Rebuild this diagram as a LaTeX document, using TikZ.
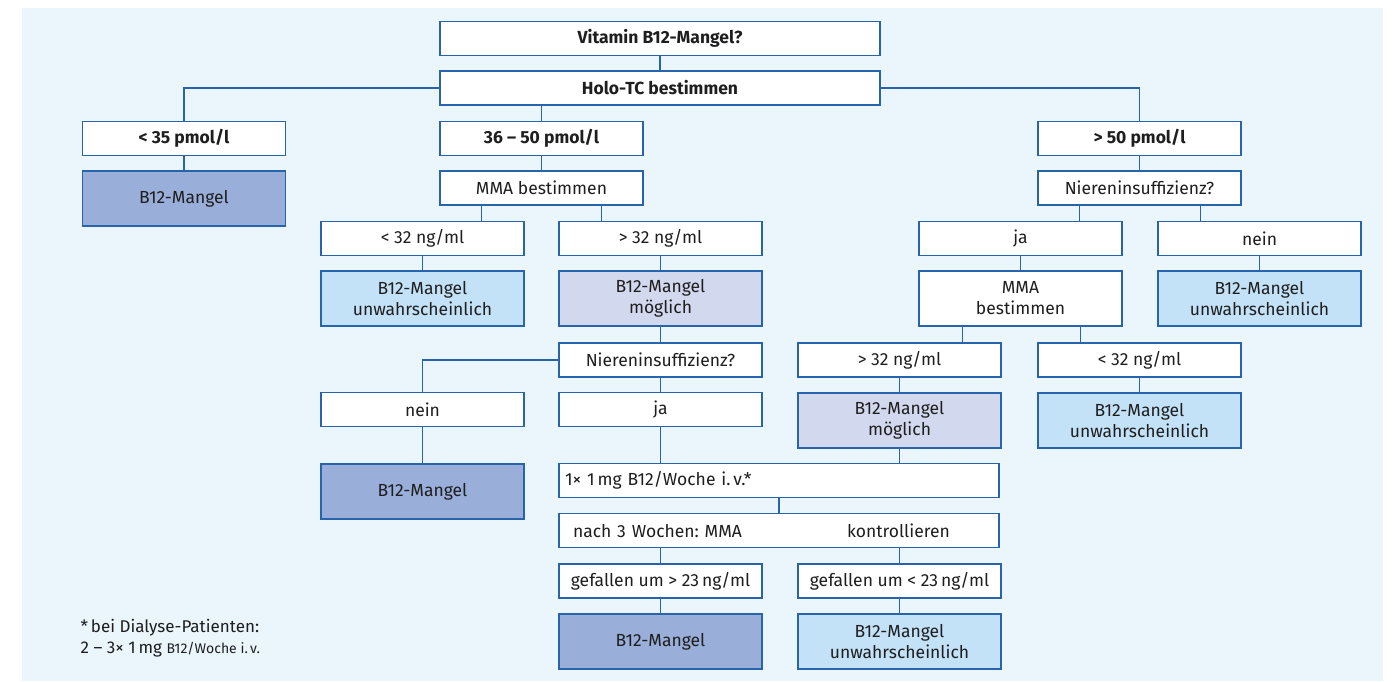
\documentclass[tikz,border=0pt]{standalone}
\usepackage{fontspec}
\setmainfont{Fira Sans}
\usepackage{tikz}
\definecolor{panel}{RGB}{234,245,252}
\definecolor{frame}{RGB}{40,100,172}
\definecolor{darkfill}{RGB}{153,174,217}
\definecolor{lavfill}{RGB}{210,216,238}
\definecolor{lightfill}{RGB}{196,226,247}
\definecolor{ink}{RGB}{30,30,30}
\frenchspacing

\begin{document}
\begin{tikzpicture}[x=1pt,y=-1pt,line width=1.3pt]
        \tikzstyle{box}=[rectangle, draw=frame, fill=white, text=ink, inner sep=0pt, align=center,
                         minimum width=203pt, minimum height=34pt, font=\fontsize{17.5}{21}\selectfont]
        \tikzstyle{wide}=[box, minimum width=440pt]
        \tikzstyle{tall}=[box, minimum height=55pt]
        \tikzstyle{head}=[box, font=\fontsize{17.5}{21}\selectfont\bfseries]
        \tikzstyle{sure}=[tall, fill=darkfill]
        \tikzstyle{maybe}=[tall, fill=lavfill]
        \tikzstyle{unlikely}=[tall, fill=lightfill]
        \tikzstyle{link}=[draw=frame, line width=1.1pt]

        \useasboundingbox (0,0) rectangle (1397,681);
        \fill[panel] (22,8) rectangle (1383,681);

        % top
        \node[head, minimum width=440pt] (Frage) at (660,38.5) {Vitamin B12-Mangel?};
        \node[head, minimum width=440pt] (Holo) at (660,88) {Holo-TC bestimmen};
        \node[head] (Low) at (184,138.5) {< 35 pmol/l};
        \node[head] (Mid) at (541.5,138.5) {36 – 50 pmol/l};
        \node[head] (High) at (1139.5,138.5) {> 50 pmol/l};

        % left and middle branch
        \node[sure] (MangelA) at (184,198.5) {B12-Mangel};
        \node[box] (MmaA) at (541.5,188) {MMA bestimmen};
        \node[box] (LtA) at (422.5,238.5) {< 32 ng/ml};
        \node[box] (GtA) at (660.5,238.5) {> 32 ng/ml};
        \node[unlikely] (UnwA) at (422.5,298.5) {B12-Mangel\\unwahrscheinlich};
        \node[maybe] (MoegA) at (660.5,298.5) {B12-Mangel\\möglich};
        \node[box] (NiereM) at (660.5,360) {Niereninsuffizienz?};
        \node[box] (NeinM) at (422.5,409.5) {nein};
        \node[box] (JaM) at (660.5,409.5) {ja};
        \node[sure] (MangelB) at (422.5,491.5) {B12-Mangel};

        % right branch
        \node[box] (NiereR) at (1139.5,188) {Niereninsuffizienz?};
        \node[box] (JaR) at (1020.5,238.5) {ja};
        \node[box] (NeinR) at (1259.5,238.5) {nein};
        \node[tall] (MmaR) at (1020.5,298.5) {MMA\\bestimmen};
        \node[unlikely] (UnwR) at (1259.5,298.5) {B12-Mangel\\unwahrscheinlich};
        \node[box] (GtR) at (899.5,360) {> 32 ng/ml};
        \node[box] (LtR) at (1139.5,360) {< 32 ng/ml};
        \node[maybe] (MoegR) at (899.5,420.5) {B12-Mangel\\möglich};
        \node[unlikely] (UnwR2) at (1139.5,420.5) {B12-Mangel\\unwahrscheinlich};

        % therapy
        \node[wide, text width=428pt, inner xsep=6pt, align=left] (Gabe) at (779,480.5) {1× 1\,mg B12/Woche i.\,v.*};
        \node[wide, text width=428pt, inner xsep=6pt, align=left] (Kontrolle) at (779,530.5)
              {\hspace*{8pt}\makebox[274pt][l]{nach 3 Wochen: MMA}kontrollieren};
        \node[box] (FallHoch) at (660.5,581) {gefallen um > 23\,ng/ml};
        \node[box] (FallTief) at (899.5,581) {gefallen um < 23\,ng/ml};
        \node[sure] (MangelC) at (660.5,641.5) {B12-Mangel};
        \node[unlikely] (UnwC) at (899.5,641.5) {B12-Mangel\\unwahrscheinlich};

        \node[anchor=west, align=left, text=ink, inner sep=0pt, font=\fontsize{17}{21}\selectfont] (Fussnote) at (80,638.5)
              {*\,bei Dialyse-Patienten:\\2 – 3× 1\,mg {\fontsize{14}{21}\selectfont B12/Woche i.\,v.}};

        \path[link]
        (Frage) edge (Holo)
        (Holo.west) -| (Low.north)
        (Holo.east) -| (High.north)
        (Mid.north |- Holo.south) edge (Mid.north)
        (Low) edge (MangelA)
        (Mid) edge (MmaA)
        ([xshift=42pt]MmaA.south west) edge ([xshift=42pt]MmaA.south west |- LtA.north)
        ([xshift=-42pt]MmaA.south east) edge ([xshift=-42pt]MmaA.south east |- GtA.north)
        (LtA) edge (UnwA)
        (GtA) edge (MoegA)
        (MoegA) edge (NiereM)
        (NiereM.west) -| (NeinM.north)
        (NiereM) edge (JaM)
        (NeinM) edge (MangelB)
        (JaM) edge (JaM.south |- Gabe.north)
        (High) edge (NiereR)
        ([xshift=42pt]NiereR.south west) edge ([xshift=42pt]NiereR.south west |- JaR.north)
        ([xshift=-41pt]NiereR.south east) edge ([xshift=-41pt]NiereR.south east |- NeinR.north)
        (JaR) edge (MmaR)
        (NeinR) edge (UnwR)
        ([xshift=44pt]MmaR.south west) edge ([xshift=44pt]MmaR.south west |- GtR.north)
        ([xshift=-42pt]MmaR.south east) edge ([xshift=-42pt]MmaR.south east |- LtR.north)
        (GtR) edge (MoegR)
        (LtR) edge (UnwR2)
        (MoegR) edge (MoegR.south |- Gabe.north)
        (Gabe) edge (Kontrolle)
        (FallHoch.north |- Kontrolle.south) edge (FallHoch.north)
        (FallTief.north |- Kontrolle.south) edge (FallTief.north)
        (FallHoch) edge (MangelC)
        (FallTief) edge (UnwC);
      \end{tikzpicture}
\end{document}
